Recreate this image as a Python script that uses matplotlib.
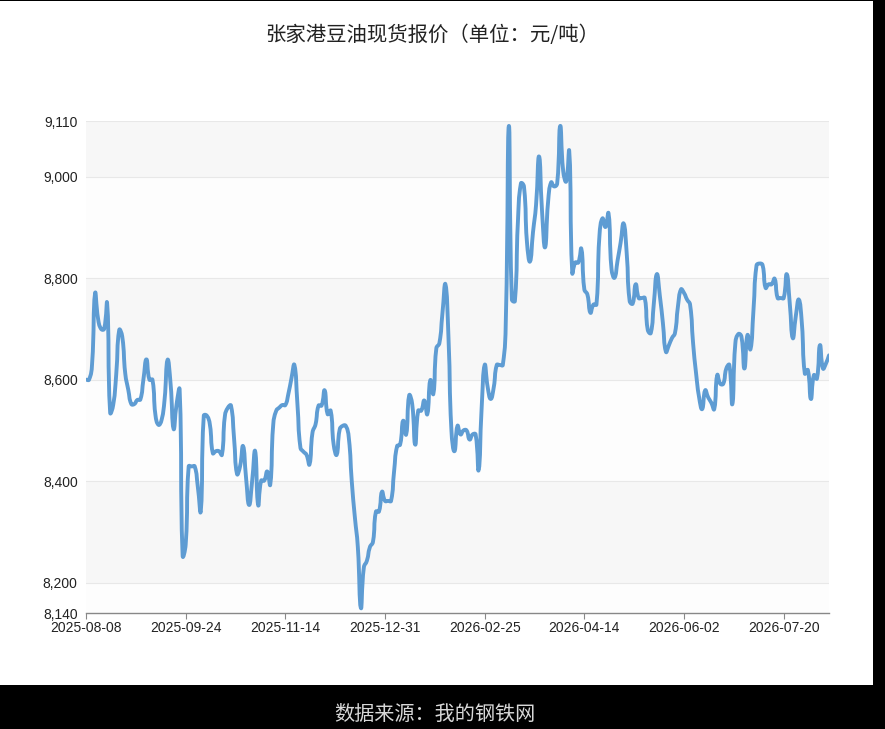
import numpy as np
import matplotlib.pyplot as plt
from matplotlib.patches import Rectangle, PathPatch
from matplotlib.path import Path

plt.rcParams['font.family'] = ['Noto Sans CJK SC', 'DejaVu Sans']

title = "张家港豆油现货报价（单位：元/吨）"
source = "数据来源：我的钢铁网"

tick_labels = ["2025-08-08", "2025-09-24", "2025-11-14", "2025-12-31",
               "2026-02-25", "2026-04-14", "2026-06-02", "2026-07-20"]
y_ticks = [8140, 8200, 8400, 8600, 8800, 9000, 9110]

prices = [
    8600, 8600, 8630, 8770, 8720, 8700, 8700, 8750, 8535, 8550,
    8610, 8698, 8685, 8612, 8580, 8552, 8552, 8560, 8561, 8600,
    8640, 8600, 8600, 8530, 8511, 8520, 8560, 8639, 8592, 8503,
    8552, 8580, 8253, 8275, 8429, 8429, 8429, 8390, 8341, 8529,
    8529, 8512, 8455, 8459, 8459, 8452, 8529, 8545, 8549, 8486,
    8414, 8429, 8469, 8406, 8353, 8400, 8459, 8353, 8401, 8401,
    8419, 8393, 8512, 8539, 8545, 8550, 8550, 8572, 8602, 8629,
    8552, 8466, 8458, 8452, 8433, 8496, 8512, 8549, 8549, 8579,
    8532, 8539, 8472, 8452, 8502, 8509, 8509, 8486, 8399, 8330,
    8270, 8150, 8230, 8243, 8270, 8280, 8340, 8340, 8379, 8361,
    8361, 8361, 8419, 8469, 8472, 8519, 8492, 8569, 8552, 8472,
    8539, 8539, 8559, 8532, 8599, 8572, 8662, 8672, 8730, 8788,
    8685, 8499, 8459, 8509, 8492, 8500, 8500, 8482, 8492, 8492,
    8422, 8545, 8629, 8585, 8562, 8585, 8629, 8629, 8629, 8718,
    9100, 8758, 8755, 8911, 8987, 8981, 8871, 8833, 8891, 8944,
    9040, 8931, 8861, 8951, 8989, 8981, 8987, 9100, 9011, 8991,
    9050, 8811, 8831, 8831, 8858, 8778, 8768, 8732, 8748, 8748,
    8884, 8918, 8901, 8928, 8818, 8801, 8835, 8870, 8908, 8851,
    8755, 8750, 8788, 8761, 8761, 8761, 8698, 8692, 8750, 8808,
    8765, 8712, 8655, 8668, 8682, 8692, 8745, 8778, 8771, 8758,
    8748, 8672, 8612, 8565, 8542, 8579, 8565, 8555, 8542, 8609,
    8592, 8592, 8622, 8629, 8552, 8672, 8690, 8685, 8622, 8688,
    8660, 8738, 8825, 8829, 8826, 8781, 8788, 8788, 8799, 8761,
    8761, 8761, 8808, 8751, 8682, 8725, 8758, 8712, 8612, 8619,
    8562, 8609, 8602, 8668, 8622, 8632, 8648,
]


def smooth_path(xs, ys, sx, sy, smooth=0.5):
    # cubic bezier through the points, control points like a smoothed line
    p = np.column_stack([np.asarray(xs, float) * sx, np.asarray(ys, float) * sy])
    n = len(p)
    verts = [p[0]]
    codes = [Path.MOVETO]
    cps = []
    for i in range(n):
        prev = p[max(i - 1, 0)]
        nxt = p[min(i + 1, n - 1)]
        v = (nxt - prev) * smooth
        d0 = np.hypot(*(p[i] - prev))
        d1 = np.hypot(*(nxt - p[i]))
        tot = d0 + d1 if d0 + d1 > 0 else 1
        cps.append((p[i] - v * d0 / tot, p[i] + v * d1 / tot))
    for i in range(1, n):
        verts += [cps[i - 1][1], cps[i][0], p[i]]
        codes += [Path.CURVE4] * 3
    verts = np.array(verts)
    verts[:, 0] /= sx
    verts[:, 1] /= sy
    return Path(verts, codes)


x = np.arange(len(prices))

fig = plt.figure(figsize=(8.85, 7.29), dpi=100)
fig.patch.set_facecolor("black")
# white panel behind the chart
fig.patches.append(Rectangle((0, 44 / 729), 873 / 885, 684 / 729,
                             transform=fig.transFigure, facecolor="white",
                             edgecolor="none", zorder=-10))

ax = fig.add_axes([86 / 885, 1 - 613 / 729, 743 / 885, 492 / 729])
ax.set_facecolor("none")

# alternating bands
bands = [8140, 8200, 8400, 8600, 8800, 9000, 9110]
for k in range(len(bands) - 1):
    col = "#fdfdfd" if k % 2 == 0 else "#f7f7f7"
    ax.axhspan(bands[k], bands[k + 1], color=col, zorder=0, lw=0)
for v in y_ticks[1:]:
    ax.axhline(v, color="#e8e8e8", lw=0.8, zorder=1)

# pixel scale so the smoothing follows screen distances
px_x = 743 / (len(prices) - 1)
px_y = 492 / (9110 - 8140)
path = smooth_path(x, prices, px_x, px_y)
ax.add_patch(PathPatch(path, facecolor="none", edgecolor="#5e9cd3", lw=2.8,
                       joinstyle="round", capstyle="round", zorder=3))

ax.set_xlim(0, len(prices) - 1)
ax.set_ylim(8140, 9110)
ax.set_yticks(y_ticks)
ax.set_yticklabels([f"{v:,}" for v in y_ticks])
ax.set_xticks(np.arange(len(tick_labels)) * 33)
ax.set_xticklabels(tick_labels)

for s in ["top", "right", "left"]:
    ax.spines[s].set_visible(False)
ax.spines["bottom"].set_color("#888888")
ax.spines["bottom"].set_linewidth(1)
ax.tick_params(axis="y", length=0, labelsize=10, colors="#222222", pad=6)
ax.tick_params(axis="x", length=4, color="#888888", labelsize=10,
               colors="#222222", pad=2)
for lab in ax.get_xticklabels() + ax.get_yticklabels():
    lab.set_family(["Liberation Sans", "DejaVu Sans"])

fig.text(432 / 885, 1 - 36 / 729, title, ha="center", va="center",
         fontsize=14.7, color="#222222")
fig.text(435 / 885, 1 - 714 / 729, source, ha="center", va="center",
         fontsize=14.5, color="#d8d8d8")

fig.savefig("out.png", dpi=100, facecolor=fig.get_facecolor())
